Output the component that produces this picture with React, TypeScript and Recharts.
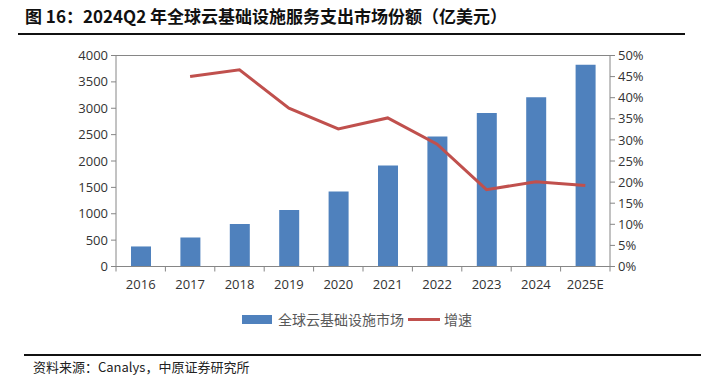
import { Bar, CartesianGrid, ComposedChart, Line, XAxis, YAxis } from "recharts";

const years = ["2016", "2017", "2018", "2019", "2020", "2021", "2022", "2023", "2024", "2025E"];
const market = [380, 550, 805, 1070, 1420, 1915, 2465, 2910, 3210, 3825];
const growth = [null, 45.0, 46.6, 37.5, 32.6, 35.2, 29.0, 18.2, 20.1, 19.2];
const leftTicks = [0, 500, 1000, 1500, 2000, 2500, 3000, 3500, 4000];
const rightTicks = [0, 5, 10, 15, 20, 25, 30, 35, 40, 45, 50];

const data = years.map((year, i) => ({ year, market: market[i], growth: growth[i] }));

const tickFont = { fontFamily: "'Open Sans', 'Noto Sans', sans-serif", fontSize: 13, fill: "#333" };
const cjk = "'Noto Sans CJK SC', sans-serif";
const band = 494 / years.length;

function YearTick(props: any) {
  const { x, y, payload, index } = props;
  return (
    <g>
      <line x1={x - band / 2} y1={y} x2={x - band / 2} y2={y + 5} stroke="#868686" />
      {index === years.length - 1 && (
        <line x1={x + band / 2} y1={y} x2={x + band / 2} y2={y + 5} stroke="#868686" />
      )}
      <text x={x} y={y + 22} textAnchor="middle" {...tickFont}>
        {payload.value}
      </text>
    </g>
  );
}

export default function App() {
  return (
    <div style={{ position: "absolute", left: 0, top: 0, width: 701, height: 378, background: "#fff" }}>
      <div
        style={{
          position: "absolute", left: 25, top: 3, fontFamily: cjk, fontWeight: 700,
          fontSize: 17, color: "#111", whiteSpace: "nowrap",
        }}
      >
        图 16：2024Q2 年全球云基础设施服务支出市场份额（亿美元）
      </div>
      <div style={{ position: "absolute", left: 18, top: 33, width: 667, height: 2, background: "#111" }} />

      <ComposedChart
        width={701}
        height={378}
        data={data}
        margin={{ top: 55.5, left: 66, right: 41, bottom: 81.5 }}
        barSize={20}
      >
        <CartesianGrid stroke="#868686" vertical={false} />
        <XAxis
          dataKey="year"
          height={30}
          stroke="#868686"
          tickSize={0}
          tickMargin={0}
          interval={0}
          tick={<YearTick />}
        />
        <YAxis
          yAxisId="left"
          width={50}
          domain={[0, 4000]}
          ticks={leftTicks}
          stroke="#868686"
          tickSize={5}
          tickMargin={3}
          tick={tickFont}
        />
        <YAxis
          yAxisId="right"
          orientation="right"
          width={50}
          domain={[0, 50]}
          ticks={rightTicks}
          stroke="#868686"
          tickSize={5}
          tickMargin={3}
          tickFormatter={(v) => `${v}%`}
          tick={tickFont}
        />
        <Bar yAxisId="left" dataKey="market" fill="#4F81BD" isAnimationActive={false} />
        <Line
          yAxisId="right"
          dataKey="growth"
          stroke="#C0504D"
          strokeWidth={3}
          dot={false}
          type="linear"
          isAnimationActive={false}
        />
      </ComposedChart>

      <div
        style={{
          position: "absolute", left: 242, top: 309, display: "flex", alignItems: "center",
          fontFamily: cjk, fontSize: 14, color: "#595959", whiteSpace: "nowrap",
        }}
      >
        <span style={{ width: 30, height: 9, background: "#4F81BD", marginRight: 6 }} />
        <span>全球云基础设施市场</span>
        <span style={{ width: 32, height: 3, background: "#C0504D", margin: "0 4px" }} />
        <span>增速</span>
      </div>

      <div style={{ position: "absolute", left: 24, top: 354, width: 677, height: 2, background: "#111" }} />
      <div
        style={{
          position: "absolute", left: 33, top: 357, fontFamily: cjk, fontSize: 13,
          color: "#222", whiteSpace: "nowrap",
        }}
      >
        资料来源：Canalys，中原证券研究所
      </div>
    </div>
  );
}
